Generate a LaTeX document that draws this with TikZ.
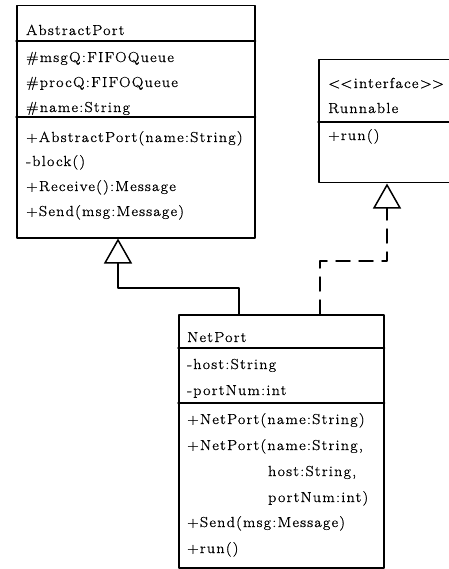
\documentclass[tikz,border=0pt]{standalone}
\usepackage{fontspec}
\setmainfont{Latin Modern Roman}[FakeStretch=1.1,LetterSpace=9,FakeBold=1]
\usetikzlibrary{arrows.meta}

\begin{document}
\begin{tikzpicture}[line cap=round,line join=round,x=1pt,y=-1pt,
  classbox/.style={draw,line width=1.5pt,inner sep=0pt,anchor=north west},
  member/.style={anchor=base west,inner sep=0pt,font=\fontsize{14.5pt}{16pt}\selectfont},
  inherit/.style={line width=1.5pt,-{Triangle[open,length=25pt,width=28pt]}},
  realize/.style={inherit,dash pattern=on 14pt off 9pt}]
\useasboundingbox (0,0) rectangle (448,569);
%
% AbstractPort
\node[classbox,minimum width=238pt,minimum height=232pt] (abstract) at (16,5) {};
\draw[line width=1.5pt] ([yshift=-36pt]abstract.north west) -- ([yshift=-36pt]abstract.north east);
\draw[line width=1.5pt] ([yshift=-112pt]abstract.north west) -- ([yshift=-112pt]abstract.north east);
\node[member] (apname) at (26,35) {AbstractPort};
\node[member] (apmsgq) at (26,62) {\#msgQ:FIFOQueue};
\node[member] (approcq) at (26,87) {\#procQ:FIFOQueue};
\node[member] (apfield) at (26,112) {\#name:String};
\node[member] (apctor) at (26,142) {+AbstractPort(name:String)};
\node[member] (apblock) at (26,166) {-block()};
\node[member] (aprecv) at (26,191) {+Receive():Message};
\node[member] (apsend) at (26,216) {+Send(msg:Message)};
%
% Runnable
\node[classbox,minimum width=152pt,minimum height=123pt] (runnable) at (318,59) {};
\draw[line width=1.5pt] ([yshift=-63pt]runnable.north west) -- ([yshift=-63pt]runnable.north east);
\node[member] (rnstereo) at (328,88) {<\kern0pt<interface>\kern0pt>};
\node[member] (rnname) at (328,113) {Runnable};
\node[member] (rnrun) at (328,140) {+run()};
%
% NetPort
\node[classbox,minimum width=205pt,minimum height=253pt] (netport) at (178,314) {};
\draw[line width=1.5pt] ([yshift=-34pt]netport.north west) -- ([yshift=-34pt]netport.north east);
\draw[line width=1.5pt] ([yshift=-89pt]netport.north west) -- ([yshift=-89pt]netport.north east);
\node[member] (npname) at (187,342) {NetPort};
\node[member] (nphost) at (187,369) {-host:String};
\node[member] (npport) at (187,395) {-portNum:int};
\node[member] (npctora) at (187,424) {+NetPort(name:String)};
\node[member] (npctorb) at (187,450) {+NetPort(name:String,};
\node[member] (npargh) at (268,476) {host:String,};
\node[member] (npargp) at (268,502) {portNum:int)};
\node[member] (npsend) at (187,527) {+Send(msg:Message)};
\node[member] (nprun) at (187,553) {+run()};
%
% relations
\coordinate (bendA) at (118,288);
\coordinate (bendR) at (387,261);
\draw[inherit] ([xshift=61pt]netport.north west) |- (bendA) -- ([xshift=102pt]abstract.south west);
\draw[realize] ([xshift=142pt]netport.north west) |- (bendR) -- ([xshift=69pt]runnable.south west);
\end{tikzpicture}
\end{document}
